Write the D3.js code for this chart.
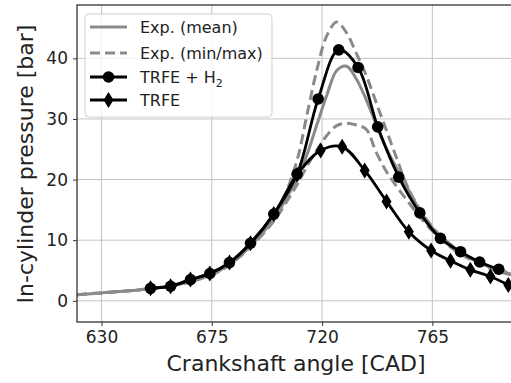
<!DOCTYPE html>
<html>
<head>
<meta charset="utf-8">
<script src="https://cdn.jsdelivr.net/npm/d3@7"></script>
<style>
  body{ margin:0; background:#fff; }
  svg text{ font-family:"DejaVu Sans", sans-serif; fill:#222; }
</style>
</head>
<body>
<div id="chart"></div>
<script>
// Tick labels.
const xTicks = [630, 675, 720, 765];
const yTicks = [0, 10, 20, 30, 40];

// Experimental curves (mean, min, max) on a shared angle grid.
const expAngle = [620, 630, 640, 650, 660, 670, 680, 690, 700, 705, 710, 714, 718, 722, 726, 730, 734, 738, 742, 746, 750, 755, 760, 765, 770, 780, 790, 798];
const expMean  = [1.0, 1.3, 1.6, 2.0, 2.6, 3.6, 5.4, 8.7, 13.3, 16.6, 20.4, 24.3, 29.2, 34.0, 38.0, 38.7, 36.6, 33.2, 29.2, 25.3, 22.2, 18.5, 14.8, 12.0, 10.0, 7.1, 5.3, 4.3];
const expMin   = [1.0, 1.3, 1.6, 2.0, 2.6, 3.6, 5.3, 8.6, 13.0, 16.0, 19.3, 22.3, 24.9, 27.3, 28.9, 29.3, 29.0, 28.3, 24.6, 21.5, 19.1, 16.4, 13.8, 11.5, 9.6, 6.9, 5.1, 4.2];
const expMax   = [1.0, 1.3, 1.6, 2.0, 2.6, 3.7, 5.5, 9.0, 14.0, 17.6, 23.5, 31.0, 38.3, 43.8, 46.0, 44.2, 40.8, 37.2, 32.8, 28.4, 24.0, 18.7, 15.0, 12.2, 10.1, 7.2, 5.4, 4.4];

// Simulations (marker positions).
const h2Angle    = [650, 658.2, 666.3, 674.2, 682.2, 690.8, 700.3, 709.8, 718.4, 726.8, 734.7, 742.7, 751.3, 759.9, 768.3, 776.5, 784.3, 792.1];
const h2Pressure = [2.05, 2.4, 3.5, 4.5, 6.3, 9.5, 14.3, 20.9, 33.3, 41.4, 38.5, 28.7, 20.4, 14.5, 10.3, 8.1, 6.4, 5.2];
const trfeAngle    = [650, 658.2, 666.3, 674.2, 682.2, 690.8, 700.3, 709.8, 719.4, 728.2, 737.4, 746.3, 755.4, 764.5, 772.4, 780.5, 788.7, 796];
const trfePressure = [2.05, 2.4, 3.5, 4.5, 6.3, 9.5, 14.3, 20.8, 24.8, 25.4, 21.5, 16.4, 11.4, 8.3, 6.6, 5.1, 4.0, 2.6];

const legendLabels = ['Exp. (mean)', 'Exp. (min/max)', 'TRFE + H', 'TRFE'];

const settings = {
  width: 511, height: 383,
  margin: { left: 77, top: 5, right: -1, bottom: 61 },
  x_domain: [620, 797.5],
  y_domain: [-3.5, 48.8],
  exp_color: '#8a8a8a',
  grid_color: '#c4c4c4',
  sim_width: 2.8,
  circle_r: 5.8
};
settings.plot_width = settings.width - settings.margin.left - settings.margin.right;
settings.plot_height = settings.height - settings.margin.top - settings.margin.bottom;

const svg = d3.select('#chart').append('svg')
  .attr('width', settings.width)
  .attr('height', settings.height);

const g = svg.append('g')
  .attr('transform', 'translate(' + settings.margin.left + ',' + settings.margin.top + ')');

const x = d3.scaleLinear().domain(settings.x_domain).range([0, settings.plot_width]);
const y = d3.scaleLinear().domain(settings.y_domain).range([settings.plot_height, 0]);

// Clip to plot area.
svg.append('defs').append('clipPath').attr('id', 'clip')
  .append('rect').attr('width', settings.plot_width).attr('height', settings.plot_height);

// Grid.
g.append('g').selectAll('line').data(xTicks).enter().append('line')
  .attr('x1', d => x(d)).attr('x2', d => x(d))
  .attr('y1', 0).attr('y2', settings.plot_height)
  .attr('stroke', settings.grid_color).attr('stroke-width', 1);
g.append('g').selectAll('line').data(yTicks).enter().append('line')
  .attr('y1', d => y(d)).attr('y2', d => y(d))
  .attr('x1', 0).attr('x2', settings.plot_width)
  .attr('stroke', settings.grid_color).attr('stroke-width', 1);

// Axes.
const xAxis = g.append('g')
  .attr('transform', 'translate(0,' + settings.plot_height + ')')
  .call(d3.axisBottom(x).tickValues(xTicks).tickSize(4).tickPadding(5));
const yAxis = g.append('g')
  .call(d3.axisLeft(y).tickValues(yTicks).tickSize(4).tickPadding(5));
[xAxis, yAxis].forEach(a => {
  a.select('.domain').remove();
  a.selectAll('line').attr('stroke', '#333').attr('stroke-width', 1);
  a.selectAll('text').style('font-size', '17px').style('font-family', '"DejaVu Sans", sans-serif').attr('fill', '#222');
});

// Data lines.
const plot = g.append('g').attr('clip-path', 'url(#clip)');
const line = d3.line().curve(d3.curveCatmullRom.alpha(0.5))
  .x(d => x(d[0])).y(d => y(d[1]));

const expSeries = [
  { v: expMean, dash: null },
  { v: expMin, dash: '10,5' },
  { v: expMax, dash: '10,5' }
];
expSeries.forEach(s => {
  plot.append('path')
    .datum(d3.zip(expAngle, s.v))
    .attr('d', line)
    .attr('fill', 'none')
    .attr('stroke', settings.exp_color)
    .attr('stroke-width', 3)
    .attr('stroke-dasharray', s.dash);
});

// Thin diamond marker.
const diamond = 'M0,-8L5,0L0,8L-5,0Z';

function simSeries(angle, pressure, marker){
  const pts = d3.zip(angle, pressure);
  plot.append('path').datum(pts).attr('d', line)
    .attr('fill', 'none').attr('stroke', '#000').attr('stroke-width', settings.sim_width);
  const m = plot.append('g').selectAll('g').data(pts).enter().append('g')
    .attr('transform', d => 'translate(' + x(d[0]) + ',' + y(d[1]) + ')');
  if( marker == 'circle' ){
    m.append('circle').attr('r', settings.circle_r).attr('fill', '#000');
  } else {
    m.append('path').attr('d', diamond).attr('fill', '#000');
  }
}
simSeries(h2Angle, h2Pressure, 'circle');
simSeries(trfeAngle, trfePressure, 'diamond');

// Frame.
g.append('rect')
  .attr('width', settings.plot_width).attr('height', settings.plot_height)
  .attr('fill', 'none').attr('stroke', '#333').attr('stroke-width', 1.3);

// Legend.
const leg = g.append('g').attr('transform', 'translate(8,9)');
leg.append('rect')
  .attr('width', 187).attr('height', 103).attr('rx', 4)
  .attr('fill', '#fff').attr('fill-opacity', 0.8)
  .attr('stroke', '#d0d0d0').attr('stroke-width', 1);
const rowY = [13, 39, 63, 86];
legendLabels.forEach((lab, i) => {
  const r = leg.append('g').attr('transform', 'translate(0,' + rowY[i] + ')');
  if( i < 2 ){
    r.append('line').attr('x1', 5).attr('x2', 42)
      .attr('stroke', settings.exp_color).attr('stroke-width', 3)
      .attr('stroke-dasharray', i == 1 ? '10,5' : null);
  } else {
    r.append('line').attr('x1', 5).attr('x2', 42)
      .attr('stroke', '#000').attr('stroke-width', settings.sim_width);
    if( i == 2 ){
      r.append('circle').attr('cx', 23.5).attr('r', settings.circle_r).attr('fill', '#000');
    } else {
      r.append('path').attr('d', diamond).attr('transform', 'translate(23.5,0)').attr('fill', '#000');
    }
  }
  const t = r.append('text').attr('x', 55).attr('y', 6).style('font-size', '16px').text(lab);
  if( i == 2 ){
    t.append('tspan').attr('dy', 4).style('font-size', '11px').text('2');
  }
});

// Axis labels.
svg.append('text')
  .attr('x', 296).attr('y', 371)
  .attr('text-anchor', 'middle')
  .style('font-size', '22px')
  .text('Crankshaft angle [CAD]');
svg.append('text')
  .attr('transform', 'translate(33,164) rotate(-90)')
  .attr('text-anchor', 'middle')
  .style('font-size', '22px')
  .text('In-cylinder pressure [bar]');
</script>
</body>
</html>
